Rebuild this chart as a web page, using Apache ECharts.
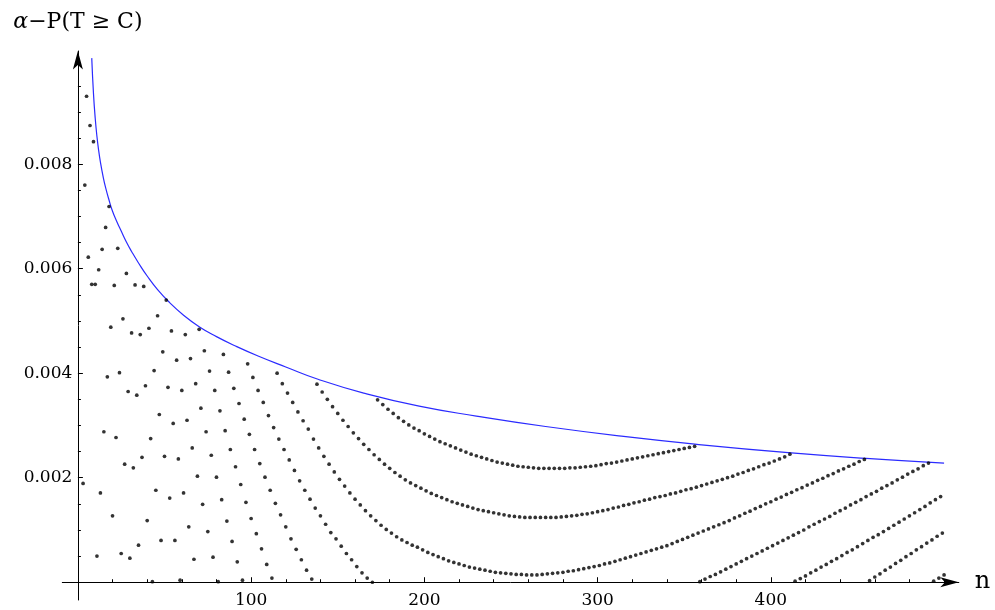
<!DOCTYPE html>
<html>
<head>
<meta charset="utf-8">
<script src="https://cdn.jsdelivr.net/npm/echarts@6/dist/echarts.min.js"></script>
<style>
  html, body { margin: 0; padding: 0; background: #fff; }
  #chart { width: 995px; height: 610px; }
</style>
</head>
<body>
<div id="chart"></div>
<script>
// alpha - P(T >= C) for each sample size n, grouped by n mod 3.
// n = 3, 6, 9, ..., 498
const diffMod0 = [
  0.00189, 0.00622, 0.00843, 0.00598, 0.00288, 0.00719, 0.00568, 0.00401, 0.00226, 0.00046,
  0.00569, 0.00474, 0.00376, 0.00275, 0.00176, 0.00080, 0.00540, 0.00481, 0.00425, 0.00367,
  0.00310, 0.00257, 0.00203, 0.00149, 0.00097, 0.00048, 0.00001, 0.00436, 0.00402, 0.00371,
  0.00342, 0.00312, 0.00283, 0.00254, 0.00227, 0.00201, 0.00176, 0.00151, 0.00129, 0.00106,
  0.00083, 0.00063, 0.00043, 0.00023, 0.00006, 0.00379,
  0.00364, 0.00350, 0.00336, 0.00323, 0.00310, 0.00298, 0.00286, 0.00275, 0.00264, 0.00254,
  0.00244, 0.00235, 0.00226, 0.00218, 0.00210, 0.00203, 0.00196, 0.00190, 0.00185, 0.00180,
  0.00175, 0.00170, 0.00166, 0.00162, 0.00158, 0.00154, 0.00151, 0.00148, 0.00145, 0.00142,
  0.00139, 0.00137, 0.00135, 0.00133, 0.00131, 0.00129, 0.00127, 0.00126, 0.00125, 0.00124,
  0.00124, 0.00124, 0.00124, 0.00124, 0.00124, 0.00124, 0.00125, 0.00126, 0.00127, 0.00128,
  0.00130, 0.00131, 0.00133, 0.00135, 0.00137, 0.00139, 0.00142, 0.00144, 0.00147, 0.00149,
  0.00152, 0.00154, 0.00157, 0.00159, 0.00162, 0.00164, 0.00166, 0.00169, 0.00171, 0.00174,
  0.00177, 0.00179, 0.00182, 0.00185, 0.00188, 0.00191, 0.00194, 0.00197, 0.00200, 0.00203,
  0.00207, 0.00210, 0.00214, 0.00217, 0.00221, 0.00225, 0.00228, 0.00232, 0.00236, 0.00240,
  0.00245,
  0.00002, 0.00007, 0.00012, 0.00018, 0.00023, 0.00029, 0.00034, 0.00040, 0.00045, 0.00051,
  0.00057, 0.00062, 0.00068, 0.00074, 0.00080, 0.00086, 0.00091, 0.00097, 0.00103, 0.00109,
  0.00115, 0.00121, 0.00127, 0.00133, 0.00139, 0.00145, 0.00152, 0.00158, 0.00164
];
// n = 4, 7, 10, ..., 499
const diffMod1 = [
  0.00760, 0.00874, 0.00570, 0.00171, 0.00679, 0.00488, 0.00277, 0.00055, 0.00591, 0.00477,
  0.00358, 0.00239, 0.00118, 0.00001, 0.00510, 0.00441, 0.00373, 0.00304, 0.00236, 0.00171,
  0.00106, 0.00044, 0.00484, 0.00443, 0.00404, 0.00367, 0.00328, 0.00290, 0.00254, 0.00221,
  0.00187, 0.00153, 0.00122, 0.00093, 0.00064, 0.00034, 0.00008, 0.00400, 0.00380, 0.00362,
  0.00344, 0.00326, 0.00309, 0.00293, 0.00274, 0.00257,
  0.00241, 0.00226, 0.00211, 0.00197, 0.00184, 0.00171, 0.00159, 0.00148, 0.00137, 0.00127,
  0.00118, 0.00109, 0.00101, 0.00094, 0.00087, 0.00081, 0.00076, 0.00071, 0.00067, 0.00062,
  0.00057, 0.00053, 0.00049, 0.00045, 0.00041, 0.00038, 0.00035, 0.00032, 0.00029, 0.00027,
  0.00025, 0.00023, 0.00021, 0.00019, 0.00018, 0.00017, 0.00016, 0.00015, 0.00015, 0.00014,
  0.00014, 0.00014, 0.00015, 0.00016, 0.00017, 0.00018, 0.00019, 0.00021, 0.00022, 0.00024,
  0.00026, 0.00028, 0.00030, 0.00032, 0.00035, 0.00037, 0.00040, 0.00043, 0.00046, 0.00049,
  0.00052, 0.00055, 0.00058, 0.00061, 0.00064, 0.00067, 0.00070, 0.00074, 0.00078, 0.00082,
  0.00086, 0.00090, 0.00094, 0.00098, 0.00102, 0.00106, 0.00110, 0.00114, 0.00118, 0.00123,
  0.00127, 0.00132, 0.00136, 0.00141, 0.00145, 0.00150, 0.00154, 0.00159, 0.00163, 0.00168,
  0.00172, 0.00177, 0.00181, 0.00186, 0.00190, 0.00195, 0.00199, 0.00204, 0.00208, 0.00213,
  0.00217, 0.00222, 0.00226, 0.00231, 0.00235,
  0.00003, 0.00010, 0.00016, 0.00023, 0.00029, 0.00036, 0.00042, 0.00049, 0.00055, 0.00062,
  0.00068, 0.00075, 0.00081, 0.00088, 0.00094
];
// n = 5, 8, 11, ..., 500
const diffMod2 = [
  0.00930, 0.00570, 0.00050, 0.00637, 0.00393, 0.00127, 0.00639, 0.00504, 0.00365, 0.00219,
  0.00071, 0.00566, 0.00486, 0.00405, 0.00321, 0.00241, 0.00161, 0.00080, 0.00004, 0.00474,
  0.00428, 0.00380, 0.00333, 0.00288, 0.00243, 0.00201, 0.00158, 0.00117, 0.00078, 0.00039,
  0.00004, 0.00418, 0.00392, 0.00367, 0.00344, 0.00319, 0.00296, 0.00274, 0.00254, 0.00234,
  0.00214, 0.00194, 0.00176, 0.00159, 0.00142, 0.00127, 0.00111, 0.00095, 0.00083, 0.00069,
  0.00055, 0.00043, 0.00030, 0.00018, 0.00008, 0.00000,
  0.00349, 0.00340, 0.00331, 0.00323, 0.00315, 0.00308, 0.00301, 0.00295, 0.00290, 0.00284,
  0.00279, 0.00274, 0.00269, 0.00265, 0.00261, 0.00257, 0.00253, 0.00249, 0.00245, 0.00242,
  0.00239, 0.00236, 0.00233, 0.00230, 0.00228, 0.00226, 0.00224, 0.00222, 0.00221, 0.00220,
  0.00219, 0.00218, 0.00218, 0.00218, 0.00218, 0.00218, 0.00218, 0.00219, 0.00219, 0.00220,
  0.00221, 0.00222, 0.00223, 0.00225, 0.00227, 0.00228, 0.00230, 0.00232, 0.00234, 0.00236,
  0.00238, 0.00240, 0.00242, 0.00244, 0.00246, 0.00248, 0.00250, 0.00252, 0.00254, 0.00256,
  0.00258, 0.00260,
  0.00001, 0.00006, 0.00011, 0.00015, 0.00020, 0.00025, 0.00030, 0.00035, 0.00040, 0.00045,
  0.00050, 0.00055, 0.00060, 0.00065, 0.00070, 0.00075, 0.00080, 0.00085, 0.00090, 0.00095,
  0.00100, 0.00106, 0.00111, 0.00116, 0.00121, 0.00126, 0.00132, 0.00137, 0.00142, 0.00148,
  0.00153, 0.00158, 0.00164, 0.00169, 0.00174, 0.00180, 0.00185, 0.00190, 0.00196, 0.00201,
  0.00207, 0.00212, 0.00217, 0.00223, 0.00228,
  0.00002, 0.00008, 0.00014
];
const firstN = [3, 4, 5];

// Upper bound curve
const boundN = [8, 9, 10, 11, 12, 13, 14.5, 16, 18, 20, 22.5, 25, 28, 31, 35, 40, 46, 53, 61, 70,
  80, 91, 104, 120, 139, 165, 197, 230, 270, 315, 360, 410, 455, 500];
const boundV = [0.01003, 0.00935, 0.00888, 0.00853, 0.00826, 0.00804, 0.00777, 0.00755, 0.00731,
  0.00710, 0.00690, 0.00672, 0.00651, 0.00633, 0.00611, 0.00586, 0.00560, 0.00535, 0.00511,
  0.00489, 0.00470, 0.00452, 0.00433, 0.00412, 0.00388, 0.00362, 0.00337, 0.00318, 0.00298,
  0.00279, 0.00263, 0.00248, 0.00237, 0.00228];

// Axis ticks
const xMajorTicks = [100, 200, 300, 400];
const xMinorTicks = [20, 40, 60, 80, 120, 140, 160, 180, 220, 240, 260, 280, 320, 340, 360, 380,
  420, 440, 460, 480, 500];
const yMajorTicks = [0.002, 0.004, 0.006, 0.008];
const yMinorTicks = [0.0005, 0.001, 0.0015, 0.0025, 0.003, 0.0035, 0.0045, 0.005, 0.0055,
  0.0065, 0.007, 0.0075, 0.0085, 0.009, 0.0095];

const X_MIN = -9, X_MAX = 508.5;
const Y_MIN = -0.00034, Y_MAX = 0.010166;
const SERIF = '"DejaVu Serif", "Liberation Serif", serif';

const points = [];
[diffMod0, diffMod1, diffMod2].forEach(function (vals, k) {
  vals.forEach(function (v, i) { points.push([firstN[k] + 3 * i, v]); });
});
const boundData = boundN.map(function (n, i) { return [n, boundV[i]]; });

const chart = echarts.init(document.getElementById('chart'), null, { renderer: 'canvas' });

const axisLineStyle = { color: '#000', width: 1 };

chart.setOption({
  animation: false,
  backgroundColor: '#fff',
  grid: { left: 62.3, right: 36.2, top: 51, bottom: 10, containLabel: false, outerBoundsMode: 'none' },
  xAxis: [
    {
      type: 'value', min: X_MIN, max: X_MAX, position: 'bottom',
      name: 'n', nameLocation: 'end', nameGap: 16,
      nameTextStyle: { fontFamily: SERIF, fontSize: 24, color: '#000', verticalAlign: 'middle' },
      axisLine: { show: true, onZero: true, symbol: ['none', 'arrow'], symbolSize: [7.5, 18.5], lineStyle: axisLineStyle },
      axisTick: { show: true, inside: true, length: 5, customValues: xMajorTicks, lineStyle: axisLineStyle },
      // labels sit at the grid edge, so pull them up to the zero line
      axisLabel: { show: true, customValues: xMajorTicks, margin: -8, fontFamily: SERIF, fontSize: 17, color: '#000' },
      splitLine: { show: false }
    },
    {
      type: 'value', min: X_MIN, max: X_MAX, position: 'bottom',
      axisLine: { show: false, onZero: true },
      axisTick: { show: true, inside: true, length: 3, customValues: xMinorTicks, lineStyle: axisLineStyle },
      axisLabel: { show: false },
      splitLine: { show: false }
    }
  ],
  yAxis: [
    {
      type: 'value', min: Y_MIN, max: Y_MAX, position: 'left',
      name: '{a|α}−P(T ≥ C)', nameLocation: 'end', nameGap: 18,
      nameTextStyle: {
        fontFamily: SERIF, fontSize: 22, color: '#000', align: 'center',
        rich: { a: { fontFamily: SERIF, fontStyle: 'italic', fontSize: 22, color: '#000' } }
      },
      axisLine: { show: true, onZero: true, symbol: ['none', 'arrow'], symbolSize: [7.5, 18.5], lineStyle: axisLineStyle },
      axisTick: { show: true, inside: true, length: 5, customValues: yMajorTicks, lineStyle: axisLineStyle },
      axisLabel: {
        show: true, customValues: yMajorTicks, margin: -10, fontFamily: SERIF, fontSize: 17, color: '#000',
        formatter: function (v) { return v.toFixed(3); }
      },
      splitLine: { show: false }
    },
    {
      type: 'value', min: Y_MIN, max: Y_MAX, position: 'left',
      axisLine: { show: false, onZero: true },
      axisTick: { show: true, inside: true, length: 3, customValues: yMinorTicks, lineStyle: axisLineStyle },
      axisLabel: { show: false },
      splitLine: { show: false }
    }
  ],
  series: [
    {
      type: 'line', xAxisIndex: 0, yAxisIndex: 0, data: boundData, smooth: true,
      showSymbol: false, silent: true, z: 2,
      lineStyle: { color: '#2b2bff', width: 1.2 }
    },
    {
      type: 'scatter', xAxisIndex: 0, yAxisIndex: 0, data: points, symbol: 'circle',
      symbolSize: 3.7, silent: true, z: 3,
      itemStyle: { color: '#000' }
    }
  ]
});
</script>
</body>
</html>
